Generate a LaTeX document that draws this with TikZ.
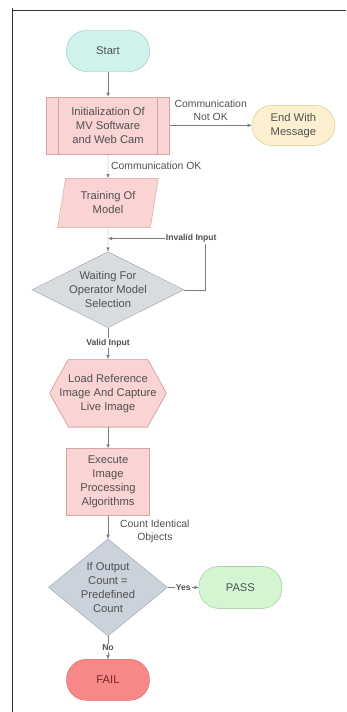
\documentclass[tikz,border=0pt]{standalone}
\usepackage{fontspec}
\setmainfont{Liberation Sans}
\usepackage{tikz}
\usetikzlibrary{positioning,arrows.meta,shapes.geometric}

\definecolor{txtgray}{HTML}{505050}
\definecolor{linegray}{HTML}{7C7C7C}
\definecolor{startfill}{HTML}{CFF3EC}
\definecolor{startdraw}{HTML}{8DBFB7}
\definecolor{pinkfill}{HTML}{FAD3D3}
\definecolor{pinkdraw}{HTML}{D7A3A3}
\definecolor{endfill}{HTML}{FDF0D0}
\definecolor{enddraw}{HTML}{D9C37F}
\definecolor{decfill}{HTML}{D8DBE0}
\definecolor{decdraw}{HTML}{9AA0A8}
\definecolor{dectwofill}{HTML}{CBD2DC}
\definecolor{passfill}{HTML}{D5F5D2}
\definecolor{passdraw}{HTML}{90C38C}
\definecolor{failfill}{HTML}{F88787}
\definecolor{faildraw}{HTML}{D26666}

\tikzset{
  base/.style={text=txtgray,font=\fontsize{11.2}{14}\selectfont,align=center,inner sep=0pt},
  pill/.style={base,rectangle,rounded corners=20pt,minimum width=83pt,minimum height=41pt},
  procbox/.style={base,rectangle,draw=pinkdraw,fill=pinkfill,minimum width=83pt,minimum height=67pt},
  predef/.style={procbox,minimum width=123pt,minimum height=57pt,
    path picture={\draw[pinkdraw]
      ([xshift=12pt]path picture bounding box.north west) -- ([xshift=12pt]path picture bounding box.south west)
      ([xshift=-12pt]path picture bounding box.north east) -- ([xshift=-12pt]path picture bounding box.south east);}},
  iobox/.style={base,trapezium,trapezium left angle=77,trapezium right angle=103,trapezium stretches=true,
    draw=pinkdraw,fill=pinkfill,minimum width=101pt,minimum height=49pt},
  hexbox/.style={base,rectangle,minimum width=117pt,minimum height=68pt,
    path picture={\filldraw[pinkdraw,fill=pinkfill,line width=0.8pt]
      (path picture bounding box.west) -- ([xshift=19pt]path picture bounding box.north west)
      -- ([xshift=-19pt]path picture bounding box.north east) -- (path picture bounding box.east)
      -- ([xshift=-19pt]path picture bounding box.south east) -- ([xshift=19pt]path picture bounding box.south west)
      -- cycle;}},
  decision/.style={base,diamond,draw=decdraw,fill=decfill},
  arr/.style={draw=linegray,-{Latex[length=4pt,width=3.5pt]}},
  lbl/.style={text=txtgray,font=\fontsize{10.4}{13}\selectfont,align=center,inner sep=1pt},
  blbl/.style={text=txtgray,font=\bfseries\fontsize{8.6}{10}\selectfont,fill=white,inner sep=1pt},
}

\begin{document}
\begin{tikzpicture}[x=1pt,y=1pt]
\useasboundingbox (0,0) rectangle (346,-712);
% frame
\draw[black!80] (12,-10) -- (346,-10);
\draw[black!80] (12,-8) -- (12,-712);

\node(start)[pill,draw=startdraw,fill=startfill] at (108,-51) {Start};
\node(init)[predef,below=25pt of start] {Initialization Of\\MV Software\\and Web Cam};
\node(endmsg)[pill,draw=enddraw,fill=endfill,minimum height=40pt,right=82pt of init] {End With\\Message};
\node(train)[iobox,below=24pt of init] {Training Of\\Model};
\node(wait)[decision,minimum width=152pt,minimum height=76pt,shape aspect=2,below=24pt of train] {Waiting For\\Operator Model\\Selection};
\node(load)[hexbox,below=31pt of wait] {Load Reference\\Image And Capture\\Live Image};
\node(exec)[procbox,below=21pt of load] {Execute\\Image\\Processing\\Algorithms};
\node(check)[decision,fill=dectwofill,minimum width=119pt,minimum height=97pt,shape aspect=1.23,below=23pt of exec] {If Output\\Count =\\Predefined\\Count};
\node(pass)[pill,draw=passdraw,fill=passfill,minimum height=42pt,right=31pt of check] {PASS};
\node(fail)[pill,draw=faildraw,fill=failfill,text=black!60!red!70!gray,below=23pt of check] {FAIL};

\coordinate(merge) at ([yshift=-11pt]train.south);

\draw[arr] (start) -- (init);
\draw[arr] (init) -- node[lbl,above=4pt]{Communication\\Not OK} (endmsg);
\draw[arr] (init) -- node[lbl,right=2pt]{Communication OK} (train);
\draw[arr] (train) -- (wait);
\draw[arr] (wait.east) -- ++(21pt,0) |- node[blbl,pos=0.5,xshift=-14pt]{Invalid Input} (merge);
\draw[arr] (wait) -- node[blbl]{Valid Input} (load);
\draw[arr] (load) -- (exec);
\draw[arr] (exec) -- node[lbl,right=11pt,yshift=-4pt]{Count Identical\\Objects} (check);
\draw[arr] (check) -- node[blbl]{Yes} (pass);
\draw[arr] (check) -- node[blbl]{No} (fail);
\end{tikzpicture}
\end{document}
